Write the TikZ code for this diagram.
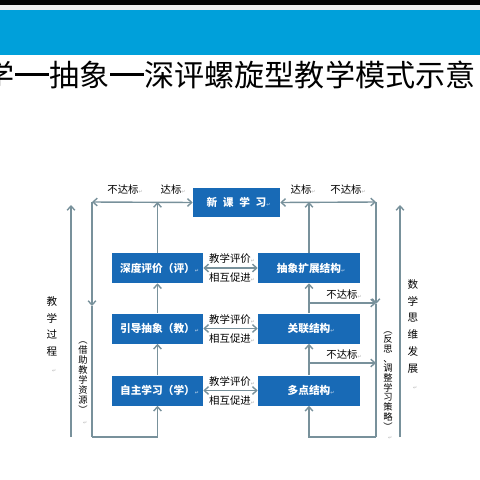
\documentclass[tikz,border=0pt]{standalone}
\usepackage{fontspec}
\setmainfont{Noto Sans CJK SC}
\newfontfamily\retfont{DejaVu Sans}
\usepackage{xcolor}
\usetikzlibrary{positioning}
\usetikzlibrary{arrows.meta}
\definecolor{hdrblue}{RGB}{0,160,218}
\definecolor{boxblue}{RGB}{24,106,182}
\definecolor{lnc}{RGB}{120,145,155}
\newcommand{\parmk}[1][gray!60]{\rlap{\retfont\fontsize{3.5}{4}\selectfont\textcolor{#1}{↵}}}
\newcommand{\bigdash}{\hspace{0.02em}\rule[0.36em]{1.12em}{0.1em}\hspace{0.02em}}
\tikzset{
  modebox/.style={fill=boxblue, text=white, inner sep=0pt, minimum height=0.75cm,
    font=\bfseries\fontsize{7.6}{9}\selectfont},
  tag/.style={inner sep=0pt, font=\fontsize{7.4}{9}\selectfont},
  vtext/.style={align=center, anchor=north, inner sep=0pt},
  flow/.style={draw=lnc, line width=1pt}
}

\begin{document}
\begin{tikzpicture}[x=0.025cm, y=-0.025cm, >={Straight Barb[length=3pt,width=5.5pt]}]
                \useasboundingbox (0,0) rectangle (480,480);

                % Header
                \fill[black] (0,0) rectangle (480,5);
                \fill[gray!15] (0,5) rectangle (480,10);
                \fill[hdrblue] (0,10) rectangle (480,55);
                \node at (230,75) (title) [font=\fontsize{21.4}{24}\selectfont] {学\bigdash 抽象\bigdash 深评螺旋型教学模式示意};

                % Nodes
                \node at (236.5,202.5) (xin) [modebox, minimum width=2.175cm, minimum height=0.725cm] {新\hspace{4pt}课\hspace{4pt}学\hspace{4pt}习\parmk[white!60!boxblue]};
                \node at (157.5,268) (pj) [modebox, minimum width=2.275cm] {深度评价（评）\parmk[white!60!boxblue]};
                \node at (309,268) (cx) [modebox, minimum width=2.55cm] {抽象扩展结构\parmk[white!60!boxblue]};
                \node at (157.5,328.5) (yd) [modebox, minimum width=2.275cm] {引导抽象（教）\parmk[white!60!boxblue]};
                \node at (309,328.5) (gl) [modebox, minimum width=2.55cm] {关联结构\parmk[white!60!boxblue]};
                \node at (157.5,390.5) (zz) [modebox, minimum width=2.275cm] {自主学习（学）\parmk[white!60!boxblue]};
                \node at (309,390.5) (dd) [modebox, minimum width=2.55cm] {多点结构\parmk[white!60!boxblue]};

                \node at (123,190) (nogo1) [tag] {不达标\parmk};
                \node at (171,190) (go1) [tag] {达标\parmk};
                \node at (301,190) (go2) [tag] {达标\parmk};
                \node at (346,190) (nogo2) [tag] {不达标\parmk};
                \node at (342,295) (nogo3) [tag] {不达标\parmk};
                \node at (342,355) (nogo4) [tag] {不达标\parmk};

                \node at (230,259) (eval1) [tag] {教学评价\parmk};
                \node at (230,278) (prom1) [tag] {相互促进\parmk};
                \node at (230,319.5) (eval2) [tag] {教学评价\parmk};
                \node at (230,338.5) (prom2) [tag] {相互促进\parmk};
                \node at (230,381.5) (eval3) [tag] {教学评价\parmk};
                \node at (230,400.5) (prom3) [tag] {相互促进\parmk};

                \node at (52,296) (proc) [vtext, font=\fontsize{7.5}{12}\selectfont] {教\\学\\过\\程\\\parmk};
                \node at (83,341) (res) [vtext, font=\fontsize{6.6}{7.2}\selectfont] {︵\\借\\助\\教\\学\\资\\源\\︶\\\parmk};
                \node at (413,279) (grow) [vtext, font=\fontsize{7.5}{12}\selectfont] {数\\学\\思\\维\\发\\展\\\parmk};
                \node at (388,331) (adj) [vtext, font=\fontsize{6.6}{6.9}\selectfont] {︵\\反\\思\\、\\调\\整\\学\\习\\策\\略\\︶\\\parmk};

                % Corners
                \coordinate (tl) at (92,202);
                \coordinate (tr) at (376,202);
                \coordinate (bl) at (92,437);
                \coordinate (br) at (376,437);
                \coordinate (ldn) at (92,306);
                \coordinate (rdn) at (376,304);
                \coordinate (nd1) at (309,303);
                \coordinate (nd2) at (309,363);
                \coordinate (lo1) at (71,437);
                \coordinate (lo2) at (71,205);
                \coordinate (ro1) at (400,437);
                \coordinate (ro2) at (400,205);

                % Arrows
                \draw[flow, <->] (tl) -- (xin.west);
                \draw[flow, <->] (xin.east) -- (tr);
                \draw[flow, ->] (tl) -- (ldn);
                \draw[flow] (ldn) -- (bl);
                \draw[flow, ->] (bl) -| (zz.south);
                \draw[flow, ->] (tr) -- (rdn);
                \draw[flow] (rdn) -- (br);
                \draw[flow, ->] (br) -| (dd.south);

                \draw[flow, ->] (zz) -- (yd);
                \draw[flow, ->] (yd) -- (pj);
                \draw[flow, ->] (pj.north) -- (pj.north |- tl);
                \draw[flow, ->] (dd) -- (gl);
                \draw[flow, ->] (gl) -- (cx);
                \draw[flow, ->] (cx.north) -- (cx.north |- tr);
                \draw[flow, ->] (nd1) -- (nd1 -| tr);
                \draw[flow, ->] (nd2) -- (nd2 -| tr);

                \draw[flow, <->] (pj) -- (cx);
                \draw[flow, <->] (yd) -- (gl);
                \draw[flow, <->] (zz) -- (dd);

                \draw[flow, ->] (lo1) -- (lo2);
                \draw[flow, ->] (ro1) -- (ro2);

            \end{tikzpicture}
\end{document}
